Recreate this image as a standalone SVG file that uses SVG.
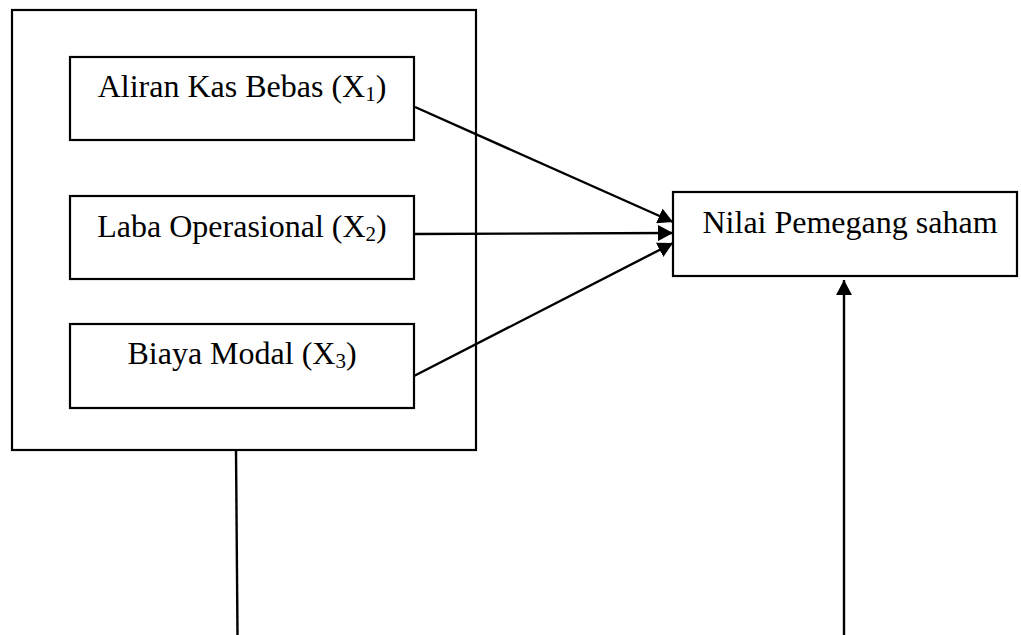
<svg xmlns="http://www.w3.org/2000/svg" width="1021" height="635" viewBox="0 0 1021 635">
<style>
.box{fill:#fff;stroke:#000;stroke-width:2.2}
.lbl{font-family:"Liberation Serif","Times New Roman",serif;font-size:32px;fill:#000;text-anchor:middle}
.sub{font-size:21px}
.con{stroke:#000;stroke-width:2.4;fill:none}
</style>
<defs>
<marker id="ah" markerUnits="userSpaceOnUse" markerWidth="16" markerHeight="16" refX="15" refY="8" orient="auto">
<path d="M0,0 L15,8 L0,16 z" fill="#000"/>
</marker>
</defs>
<rect width="1021" height="635" fill="#fff"/>
<g id="group-x">
<rect class="box" x="12" y="10" width="464" height="440"/>
</g>
<g id="x1">
<rect class="box" x="70" y="57" width="344" height="83"/>
<text class="lbl" x="242" y="97">Aliran Kas Bebas (X<tspan class="sub" dy="4">1</tspan><tspan dy="-4">)</tspan></text>
</g>
<g id="x2">
<rect class="box" x="70" y="196" width="344" height="83"/>
<text class="lbl" x="242" y="237">Laba Operasional (X<tspan class="sub" dy="4">2</tspan><tspan dy="-4">)</tspan></text>
</g>
<g id="x3">
<rect class="box" x="70" y="324" width="344" height="84"/>
<text class="lbl" x="242" y="364">Biaya Modal (X<tspan class="sub" dy="4">3</tspan><tspan dy="-4">)</tspan></text>
</g>
<g id="y">
<rect class="box" x="673" y="192" width="344" height="84"/>
<text class="lbl" x="850" y="233">Nilai Pemegang saham</text>
</g>
<g id="connectors">
<line class="con" x1="415" y1="107" x2="673" y2="222" marker-end="url(#ah)"/>
<line class="con" x1="414" y1="234" x2="673" y2="233" marker-end="url(#ah)"/>
<line class="con" x1="414" y1="376" x2="673" y2="243" marker-end="url(#ah)"/>
<line class="con" x1="236" y1="450" x2="237.5" y2="635"/>
<line class="con" x1="844" y1="635" x2="844" y2="280" marker-end="url(#ah)"/>
</g>
</svg>
